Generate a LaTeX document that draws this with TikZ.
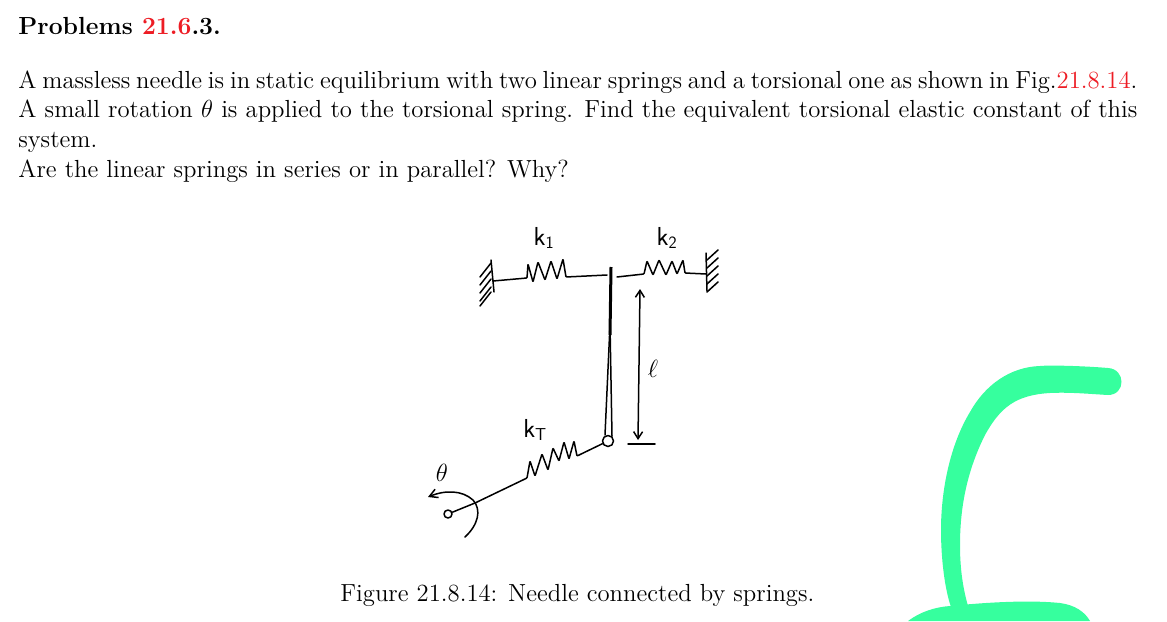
\documentclass[tikz,border=0pt]{standalone}
\usepackage{xcolor}
\usetikzlibrary{arrows.meta}
\definecolor{linkred}{RGB}{237,28,36}
\definecolor{markgreen}{RGB}{54,255,158}
\begin{document}
\begin{tikzpicture}[x=1pt,y=-1pt,
	txt/.style={inner sep=0pt,anchor=base west,scale=2.06,transform shape,font=\fontsize{12}{14.56}\selectfont},
	hand/.style={line width=1.5pt,line join=round,line cap=round},
	coil/.style={hand,rounded corners=.8pt},
	lbl/.style={inner sep=0pt,font=\fontsize{26}{28}\sffamily\selectfont}]
 \useasboundingbox (0,0) rectangle (1167,621);
 % page text
 \node[txt] (head) at (18,34) {\textbf{Problems \textcolor{linkred}{21.6}.3.}};
 \node[txt,text width=543.2pt,align=justify] (body) at (18,88) {A massless needle is in static equilibrium with two linear springs and a torsional one as shown in Fig.\textcolor{linkred}{21.8.14}.\linebreak A small rotation $\theta$ is applied to the torsional spring. Find the equivalent torsional elastic constant of this\linebreak system.\\Are the linear springs in series or in parallel? Why?};
 \node[txt] (caption) at (340,601) {Figure 21.8.14: Needle connected by springs.};

 % end points
 \coordinate (wallL) at (493,281);
 \coordinate (needleL) at (607,275);
 \coordinate (needleR) at (617,277);
 \coordinate (wallR) at (706,274);
 \coordinate (top) at (611,267);
 \node[draw,hand,circle,inner sep=0pt,minimum size=11pt] (pivot) at (608,441) {};
 \node[draw,hand,circle,inner sep=0pt,minimum size=8pt] (crank) at (448,514) {};
 \coordinate (dimtop) at (640,289);
 \coordinate (dimbot) at (638,440);

 % springs
 \draw[coil] (wallL) -- (527,278) -- (528,264) -- (533,282) -- (538,262) -- (545,280) -- (551,261) -- (557,279) -- (563,259) -- (566,277) -- (needleL);
 \draw[coil] (needleR) -- (644,274) -- (647,261) -- (653,275) -- (659,260) -- (666,275) -- (672,261) -- (677,274) -- (683,260) -- (685,273) -- (wallR);
 \draw[coil] (pivot) -- (577,456) -- (574,441) -- (569,459) -- (564,442) -- (559,461) -- (553,448) -- (548,470) -- (542,454) -- (535,476) -- (530,461) -- (527,478) -- (475,503) -- (crank);

 % walls
 \draw[hand] (491,260) -- (494,292);
 \foreach \y in {263,271,279,287,292}
 	\draw[hand] (491,\y) -- ++(-11,14);
 \draw[hand] (706,253) -- (707,291);
 \foreach \y in {260,268,276,284,292}
 	\draw[hand] (707,\y) -- ++(11,-10);

 % needle
 \draw[line width=3pt] (top) -- (610,335);
 \draw[hand] (610,325) -- (605,435);
 \draw[hand] (610,325) -- (612,436);

 % length
 \draw[hand,{Straight Barb[length=7pt,width=9pt]}-{Straight Barb[length=7pt,width=9pt]}] (dimtop) -- (dimbot);
 \draw[hand] (628,444) -- (655,444);

 % rotation
 \draw[hand,-{Straight Barb[length=8pt,width=9pt]}] (465,537) .. controls (478,525) and (482,510) .. (473,500) .. controls (462,490) and (445,490) .. (428,497);

 % labels
 \node[lbl] (k1) at (544,238) {k$_{\mathsf{1}}$};
 \node[lbl] (k2) at (667,238) {k$_{\mathsf{2}}$};
 \node[lbl] (kT) at (535,430) {k$_{\mathsf{T}}$};
 \node[lbl] (ell) at (653,369) {$\ell$};
 \node[lbl] (theta) at (442,473) {$\theta$};

 % green marker
 \fill[markgreen] (1108,368) .. controls (1085,366) and (1050,365) .. (1040,366)
 	.. controls (1010,367) and (985,385) .. (970,412)
 	.. controls (950,445) and (941,490) .. (941,530)
 	.. controls (941,560) and (945,590) .. (951,607)
 	-- (968,606)
 	.. controls (962,585) and (960,565) .. (960,545)
 	.. controls (960,500) and (970,465) .. (985,435)
 	.. controls (1000,408) and (1015,395) .. (1050,393)
 	.. controls (1070,392) and (1090,394) .. (1108,395)
 	.. controls (1126,395) and (1126,369) .. (1108,368) -- cycle;
 \fill[markgreen] (908,621) .. controls (920,612) and (935,607) .. (950,606)
 	.. controls (990,602) and (1030,600) .. (1060,603)
 	.. controls (1075,605) and (1085,612) .. (1090,621) -- cycle;
\end{tikzpicture}
\end{document}
